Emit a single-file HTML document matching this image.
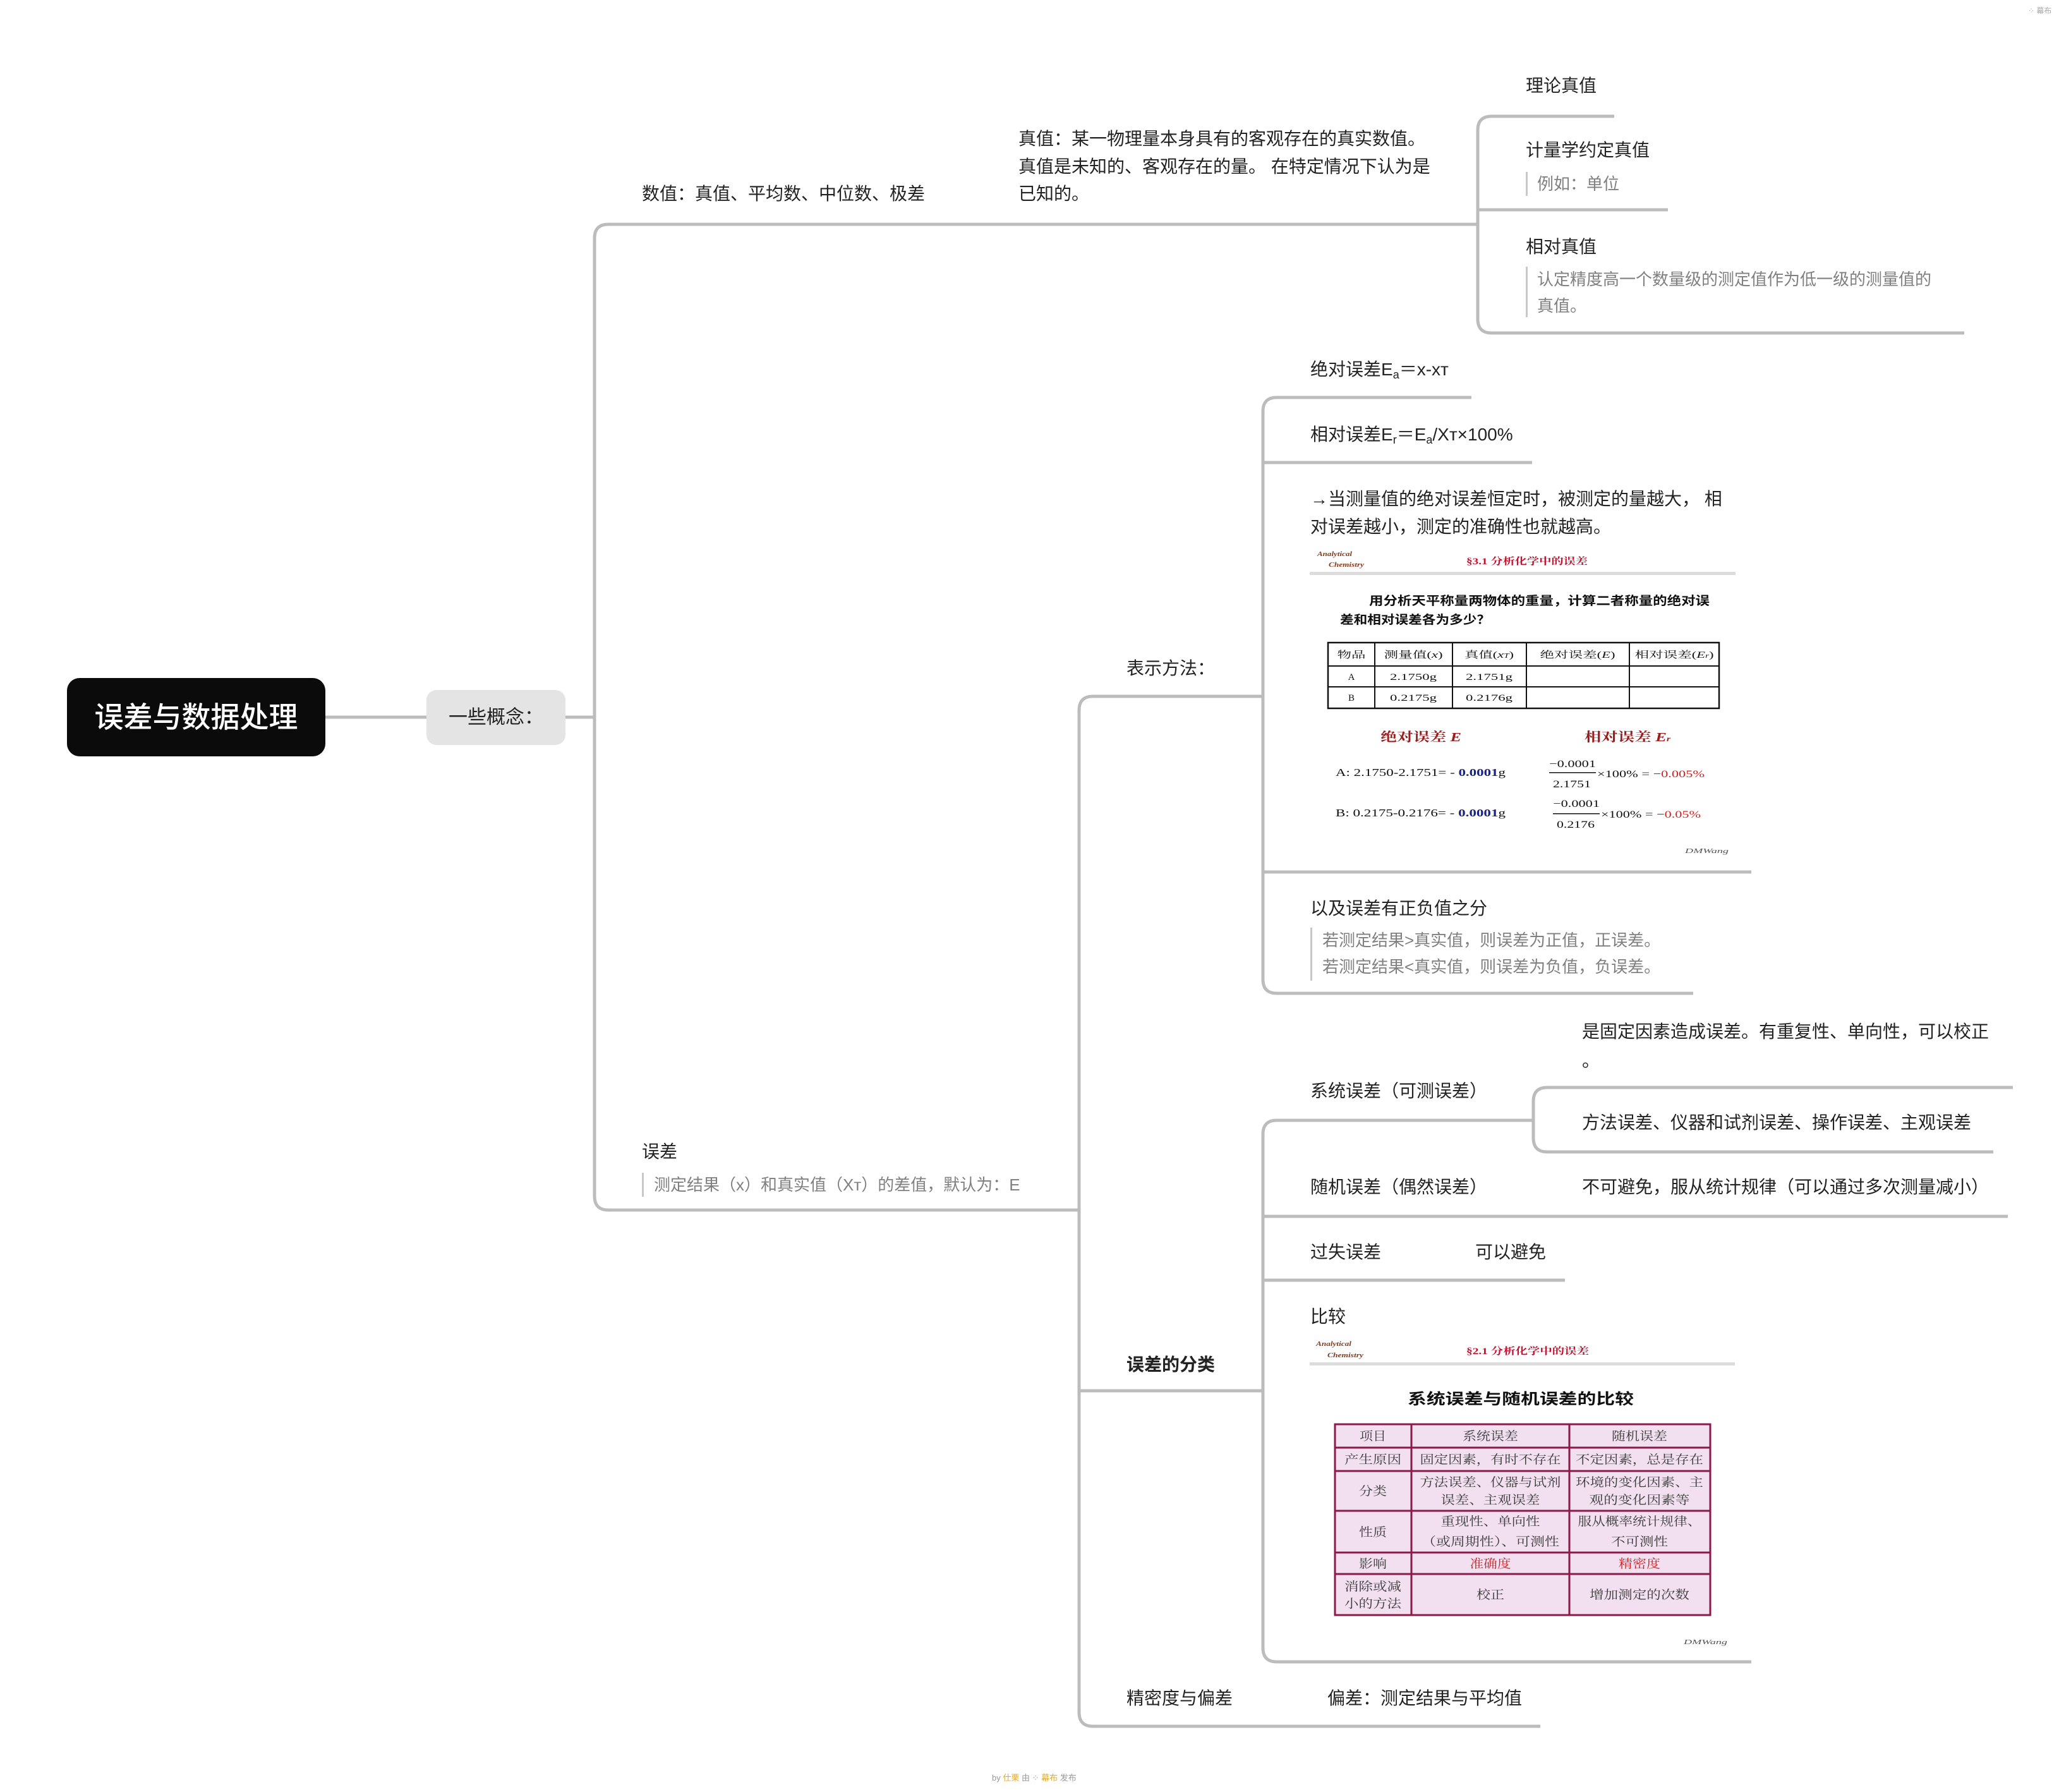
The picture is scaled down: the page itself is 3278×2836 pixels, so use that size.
<!DOCTYPE html>
<html><head><meta charset="utf-8">
<style>
html,body{margin:0;padding:0;background:#fff}
body{width:3278px;height:2836px;position:relative;overflow:hidden;font-family:"Liberation Sans","Noto Sans CJK SC",sans-serif}
.t{position:absolute;font-size:28px;line-height:44px;white-space:nowrap;color:#222}
.g{color:#808080;font-size:26px}
.bar{position:absolute;width:3px;background:#c8c8c8}
sub{font-size:18px;vertical-align:-5px;line-height:0}
</style></head><body>

<svg width="3278" height="2836" style="position:absolute;left:0;top:0" xmlns="http://www.w3.org/2000/svg">
<g fill="none" stroke="#bcbcbc" stroke-width="5">
<path d="M515 1135 H675"/>
<path d="M895 1135 H941"/>
<path d="M2337 355 H963 Q941 355 941 377 V1893 Q941 1915 963 1915 H1708"/>
<path d="M2555 184 H2361 Q2339 184 2339 206 V505 Q2339 527 2361 527 H3109"/>
<path d="M2339 332 H2640"/>
<path d="M1997 1102 H1730 Q1708 1102 1708 1124 V2710 Q1708 2732 1730 2732 H2438"/>
<path d="M1708 2201 H1999"/>
<path d="M2329 629 H2021 Q1999 629 1999 651 V1550 Q1999 1572 2021 1572 H2680"/>
<path d="M1999 732 H2425"/>
<path d="M1999 1380 H2772"/>
<path d="M2427 1773 H2021 Q1999 1773 1999 1795 V2608 Q1999 2630 2021 2630 H2772"/>
<path d="M1999 1925 H3178"/>
<path d="M1999 2026 H2477"/>
<path d="M3186 1721 H2449 Q2427 1721 2427 1743 V1801 Q2427 1823 2449 1823 H3155"/>
</g>

<!-- Slide 1 -->
<g font-family="Liberation Serif, Noto Serif CJK SC, serif">
<text x="2085" y="880" font-size="10" font-style="italic" font-weight="bold" fill="#8b3a1a" textLength="55" lengthAdjust="spacingAndGlyphs">Analytical</text>
<text x="2103" y="897" font-size="10" font-style="italic" font-weight="bold" fill="#8b3a1a" textLength="56" lengthAdjust="spacingAndGlyphs">Chemistry</text>
<text x="2321" y="893" font-size="15" font-weight="bold" fill="#c8102e" textLength="192" lengthAdjust="spacingAndGlyphs">§3.1 分析化学中的误差</text>
<rect x="2073" y="905" width="674" height="5" fill="#dcdcdc"/>
<text x="2167" y="957" font-size="19" font-weight="bold" fill="#111" font-family="Noto Sans CJK SC, sans-serif" textLength="539" lengthAdjust="spacingAndGlyphs">用分析天平称量两物体的重量，计算二者称量的绝对误</text>
<text x="2121" y="987" font-size="19" font-weight="bold" fill="#111" font-family="Noto Sans CJK SC, sans-serif" textLength="238" lengthAdjust="spacingAndGlyphs">差和相对误差各为多少？</text>
<rect x="2102" y="1017" width="619" height="104" fill="none" stroke="#111" stroke-width="2.5"/>
<path d="M2102 1054 H2721 M2102 1087 H2721 M2176 1017 V1121 M2299 1017 V1121 M2416 1017 V1121 M2579 1017 V1121" stroke="#111" stroke-width="2"/>
<g font-size="15" fill="#111" text-anchor="middle">
<text x="2139" y="1041" textLength="45" lengthAdjust="spacingAndGlyphs">物品</text>
<text x="2237" y="1041" textLength="93" lengthAdjust="spacingAndGlyphs">测量值(<tspan font-style="italic">x</tspan>)</text>
<text x="2357" y="1041" textLength="78" lengthAdjust="spacingAndGlyphs">真值(<tspan font-style="italic">x</tspan><tspan font-size="10" font-style="italic">T</tspan>)</text>
<text x="2497" y="1041" textLength="119" lengthAdjust="spacingAndGlyphs">绝对误差(<tspan font-style="italic">E</tspan>)</text>
<text x="2650" y="1041" textLength="125" lengthAdjust="spacingAndGlyphs">相对误差(<tspan font-style="italic">E</tspan><tspan font-size="10" font-style="italic">r</tspan>)</text>
<text x="2139" y="1076">A</text>
<text x="2237" y="1076" textLength="74" lengthAdjust="spacingAndGlyphs">2.1750g</text>
<text x="2357" y="1076" textLength="74" lengthAdjust="spacingAndGlyphs">2.1751g</text>
<text x="2139" y="1109">B</text>
<text x="2237" y="1109" textLength="74" lengthAdjust="spacingAndGlyphs">0.2175g</text>
<text x="2357" y="1109" textLength="74" lengthAdjust="spacingAndGlyphs">0.2176g</text>
</g>
<text x="2185" y="1173" font-size="20" fill="#9b1c1c" font-weight="bold" textLength="128" lengthAdjust="spacingAndGlyphs">绝对误差 <tspan font-style="italic">E</tspan></text>
<text x="2508" y="1173" font-size="20" fill="#9b1c1c" font-weight="bold" textLength="136" lengthAdjust="spacingAndGlyphs">相对误差 <tspan font-style="italic">E<tspan font-size="12">r</tspan></tspan></text>
<text x="2114" y="1228" font-size="17" fill="#111" textLength="269" lengthAdjust="spacingAndGlyphs">A:  2.1750-2.1751= - <tspan fill="#1a237e" font-weight="bold">0.0001</tspan>g</text>
<text x="2452" y="1214" font-size="16" fill="#111" textLength="74" lengthAdjust="spacingAndGlyphs">−0.0001</text>
<rect x="2452" y="1222" width="74" height="1.5" fill="#111"/>
<text x="2458" y="1246" font-size="16" fill="#111" textLength="60" lengthAdjust="spacingAndGlyphs">2.1751</text>
<text x="2528" y="1230" font-size="16" fill="#111" textLength="170" lengthAdjust="spacingAndGlyphs">×100% = −<tspan fill="#d32020">0.005%</tspan></text>
<text x="2114" y="1292" font-size="17" fill="#111" textLength="269" lengthAdjust="spacingAndGlyphs">B:  0.2175-0.2176= - <tspan fill="#1a237e" font-weight="bold">0.0001</tspan>g</text>
<text x="2458" y="1277" font-size="16" fill="#111" textLength="74" lengthAdjust="spacingAndGlyphs">−0.0001</text>
<rect x="2458" y="1287" width="74" height="1.5" fill="#111"/>
<text x="2464" y="1310" font-size="16" fill="#111" textLength="60" lengthAdjust="spacingAndGlyphs">0.2176</text>
<text x="2534" y="1294" font-size="16" fill="#111" textLength="158" lengthAdjust="spacingAndGlyphs">×100% = −<tspan fill="#d32020">0.05%</tspan></text>
<text x="2667" y="1350" font-size="11" fill="#555" font-style="italic" textLength="69" lengthAdjust="spacingAndGlyphs">DMWang</text>
</g>

<!-- Slide 2 -->
<g font-family="Liberation Serif, Noto Serif CJK SC, serif">
<text x="2083" y="2130" font-size="10" font-style="italic" font-weight="bold" fill="#8b3a1a" textLength="56" lengthAdjust="spacingAndGlyphs">Analytical</text>
<text x="2101" y="2148" font-size="10" font-style="italic" font-weight="bold" fill="#8b3a1a" textLength="57" lengthAdjust="spacingAndGlyphs">Chemistry</text>
<text x="2321" y="2143" font-size="15" font-weight="bold" fill="#c8102e" textLength="194" lengthAdjust="spacingAndGlyphs">§2.1 分析化学中的误差</text>
<rect x="2073" y="2156" width="673" height="5" fill="#dcdcdc"/>
<text x="2228" y="2222" font-size="24" font-weight="bold" fill="#111" font-family="Noto Sans CJK SC, sans-serif" textLength="358" lengthAdjust="spacingAndGlyphs">系统误差与随机误差的比较</text>
<rect x="2113" y="2254" width="594" height="302" fill="#f2dff0" stroke="#8b1a4a" stroke-width="3"/>
<path d="M2113 2291 H2707 M2113 2328 H2707 M2113 2391 H2707 M2113 2457 H2707 M2113 2491 H2707 M2234 2254 V2556 M2484 2254 V2556" stroke="#8b1a4a" stroke-width="3"/>
<g font-size="19" fill="#3a3a3a" text-anchor="middle" lengthAdjust="spacingAndGlyphs">
<text x="2173" y="2279" textLength="42" lengthAdjust="spacingAndGlyphs">项目</text>
<text x="2359" y="2279" textLength="88" lengthAdjust="spacingAndGlyphs">系统误差</text>
<text x="2595" y="2279" textLength="88" lengthAdjust="spacingAndGlyphs">随机误差</text>
<text x="2173" y="2316" textLength="90" lengthAdjust="spacingAndGlyphs">产生原因</text>
<text x="2359" y="2316" textLength="223" lengthAdjust="spacingAndGlyphs">固定因素，有时不存在</text>
<text x="2595" y="2316" textLength="202" lengthAdjust="spacingAndGlyphs">不定因素，总是存在</text>
<text x="2173" y="2366" textLength="44" lengthAdjust="spacingAndGlyphs">分类</text>
<text x="2359" y="2352" textLength="223" lengthAdjust="spacingAndGlyphs">方法误差、仪器与试剂</text>
<text x="2359" y="2380" textLength="157" lengthAdjust="spacingAndGlyphs">误差、主观误差</text>
<text x="2595" y="2352" textLength="202" lengthAdjust="spacingAndGlyphs">环境的变化因素、主</text>
<text x="2595" y="2380" textLength="159" lengthAdjust="spacingAndGlyphs">观的变化因素等</text>
<text x="2173" y="2431" textLength="44" lengthAdjust="spacingAndGlyphs">性质</text>
<text x="2359" y="2414" textLength="157" lengthAdjust="spacingAndGlyphs">重现性、单向性</text>
<text x="2359" y="2446" textLength="218" lengthAdjust="spacingAndGlyphs">（或周期性）、可测性</text>
<text x="2595" y="2414" textLength="195" lengthAdjust="spacingAndGlyphs">服从概率统计规律、</text>
<text x="2595" y="2446" textLength="90" lengthAdjust="spacingAndGlyphs">不可测性</text>
<text x="2173" y="2481" textLength="44" lengthAdjust="spacingAndGlyphs">影响</text>
<text x="2359" y="2481" fill="#d02020" textLength="65" lengthAdjust="spacingAndGlyphs">准确度</text>
<text x="2595" y="2481" fill="#d02020" textLength="66" lengthAdjust="spacingAndGlyphs">精密度</text>
<text x="2173" y="2517" textLength="90" lengthAdjust="spacingAndGlyphs">消除或减</text>
<text x="2173" y="2544" textLength="90" lengthAdjust="spacingAndGlyphs">小的方法</text>
<text x="2359" y="2530" textLength="44" lengthAdjust="spacingAndGlyphs">校正</text>
<text x="2595" y="2530" textLength="158" lengthAdjust="spacingAndGlyphs">增加测定的次数</text>
</g>
<text x="2665" y="2602" font-size="11" fill="#555" font-style="italic" textLength="69" lengthAdjust="spacingAndGlyphs">DMWang</text>
</g>
</svg>

<!-- root -->
<div style="position:absolute;left:106px;top:1073px;width:409px;height:124px;background:#0b0b0b;border-radius:20px;color:#fff;font-size:46px;line-height:124px;text-align:center;font-weight:500">误差与数据处理</div>
<div style="position:absolute;left:675px;top:1092px;width:220px;height:87px;background:#e4e4e4;border-radius:16px;color:#222;font-size:30px;line-height:87px;text-align:center">一些概念：</div>

<div class="t" style="left:1016px;top:285px">数值：真值、平均数、中位数、极差</div>
<div class="t" style="left:1612px;top:198px;line-height:43.5px">真值：某一物理量本身具有的客观存在的真实数值。<br>真值是未知的、客观存在的量。 在特定情况下认为是<br>已知的。</div>
<div class="t" style="left:2415px;top:114px">理论真值</div>
<div class="t" style="left:2415px;top:216px">计量学约定真值</div>
<div class="bar" style="left:2415px;top:272px;height:38px"></div>
<div class="t g" style="left:2433px;top:269px">例如：单位</div>
<div class="t" style="left:2415px;top:369px">相对真值</div>
<div class="bar" style="left:2415px;top:422px;height:80px"></div>
<div class="t g" style="left:2433px;top:421px;line-height:42px">认定精度高一个数量级的测定值作为低一级的测量值的<br>真值。</div>

<div class="t" style="left:2074px;top:563px">绝对误差E<sub>a</sub>＝x-xт</div>
<div class="t" style="left:2074px;top:666px">相对误差E<sub>r</sub>＝E<sub>a</sub>/Xт×100%</div>
<div class="t" style="left:2074px;top:768px">→当测量值的绝对误差恒定时，被测定的量越大， 相<br>对误差越小，测定的准确性也就越高。</div>
<div class="t" style="left:1783px;top:1036px">表示方法：</div>
<div class="t" style="left:2074px;top:1416px">以及误差有正负值之分</div>
<div class="bar" style="left:2074px;top:1468px;height:84px"></div>
<div class="t g" style="left:2093px;top:1467px;line-height:42px">若测定结果&gt;真实值，则误差为正值，正误差。<br>若测定结果&lt;真实值，则误差为负值，负误差。</div>

<div class="t" style="left:1016px;top:1801px">误差</div>
<div class="bar" style="left:1016px;top:1856px;height:38px"></div>
<div class="t g" style="left:1035px;top:1853px">测定结果（x）和真实值（Xт）的差值，默认为：E</div>

<div class="t" style="left:2504px;top:1611px">是固定因素造成误差。有重复性、单向性，可以校正</div>
<div class="t" style="left:2504px;top:1657px">。</div>
<div class="t" style="left:2074px;top:1705px">系统误差（可测误差）</div>
<div class="t" style="left:2504px;top:1755px">方法误差、仪器和试剂误差、操作误差、主观误差</div>
<div class="t" style="left:2074px;top:1857px">随机误差（偶然误差）</div>
<div class="t" style="left:2504px;top:1857px">不可避免，服从统计规律（可以通过多次测量减小）</div>
<div class="t" style="left:2074px;top:1960px">过失误差</div>
<div class="t" style="left:2335px;top:1960px">可以避免</div>
<div class="t" style="left:2074px;top:2062px">比较</div>
<div class="t" style="left:1783px;top:2138px;font-weight:bold">误差的分类</div>
<div class="t" style="left:1783px;top:2666px">精密度与偏差</div>
<div class="t" style="left:2101px;top:2666px">偏差：测定结果与平均值</div>

<div style="position:absolute;left:3210px;top:8px;font-size:12px;color:#aaa;white-space:nowrap">⁘ 幕布</div>
<div style="position:absolute;left:1570px;top:2803px;font-size:13px;color:#999;white-space:nowrap">by <span style="color:#e0a830">仕栗</span> 由 ⁘ <span style="color:#e0a830">幕布</span> 发布</div>
</body></html>
